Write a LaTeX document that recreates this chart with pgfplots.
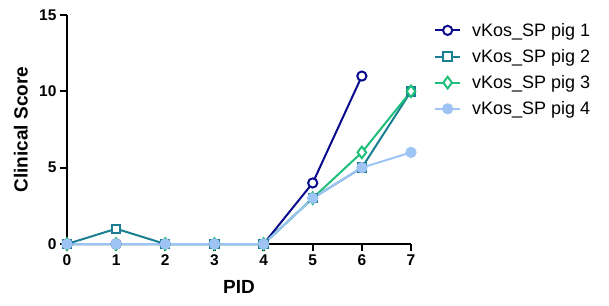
\documentclass[border=0pt]{standalone}
\usepackage{pgfplots}
\pgfplotsset{compat=1.18}
\usepackage{fontspec}
\setmainfont{Liberation Sans}
\definecolor{c1}{HTML}{0A0A8C}
\definecolor{c2}{HTML}{1A7F91}
\definecolor{c3}{HTML}{1DBF7A}
\definecolor{c4}{HTML}{9EC3F5}
\begin{document}
\begin{tikzpicture}
\begin{axis}[
  scale only axis, width=344pt, height=229pt,
  xmin=0, xmax=7, ymin=0, ymax=15,
  axis lines=left,
  axis line style={-, line width=2.2pt},
  clip=false,
  xtick={0,...,7}, ytick={0,5,10,15},
  tick align=outside, major tick length=7pt,
  tick style={line width=2.2pt, black},
  /pgf/number format/assume math mode=true,
  ticklabel style={font=\fontsize{15.5}{17}\selectfont\bfseries},
  xlabel={PID}, ylabel={Clinical Score},
  label style={font=\fontsize{19}{21}\selectfont\bfseries},
  xlabel style={yshift=-8.5pt},
  ylabel style={yshift=4.5pt},
  legend style={draw=none, fill=none, at={(1.058,0.983)}, anchor=north west,
    font=\fontsize{18}{20}\selectfont, row sep=7.6pt,
    nodes={inner sep=2pt},
    /tikz/every odd column/.append style={column sep=9pt}},
  legend image code/.code={\draw[mark repeat=2,mark phase=2] plot coordinates {(0pt,0pt)(12.5pt,0pt)(25pt,0pt)};},
  legend cell align=left,
  every axis plot/.append style={line width=2pt, mark size=4.6pt},
]
\addplot[c1, mark=*, mark options={fill=white}] coordinates {(0,0)(1,0)(2,0)(3,0)(4,0)(5,4)(6,11)};
\addlegendentry{vKos\_SP pig 1}
\addplot[c2, mark=square*, mark options={fill=white, mark size=4.2pt}] coordinates {(0,0)(1,1)(2,0)(3,0)(4,0)(5,3)(6,5)(7,10)};
\addlegendentry{vKos\_SP pig 2}
\addplot[c3, mark=diamond*, mark options={fill=white, mark size=5.8pt}] coordinates {(0,0)(1,0)(2,0)(3,0)(4,0)(5,3)(6,6)(7,10)};
\addlegendentry{vKos\_SP pig 3}
\addplot[c4, mark=*, mark options={fill=c4}] coordinates {(0,0)(1,0)(2,0)(3,0)(4,0)(5,3)(6,5)(7,6)};
\addlegendentry{vKos\_SP pig 4}
\end{axis}
\path[use as bounding box] (-67pt,-61pt) rectangle (542pt,244pt);
\end{tikzpicture}
\end{document}
